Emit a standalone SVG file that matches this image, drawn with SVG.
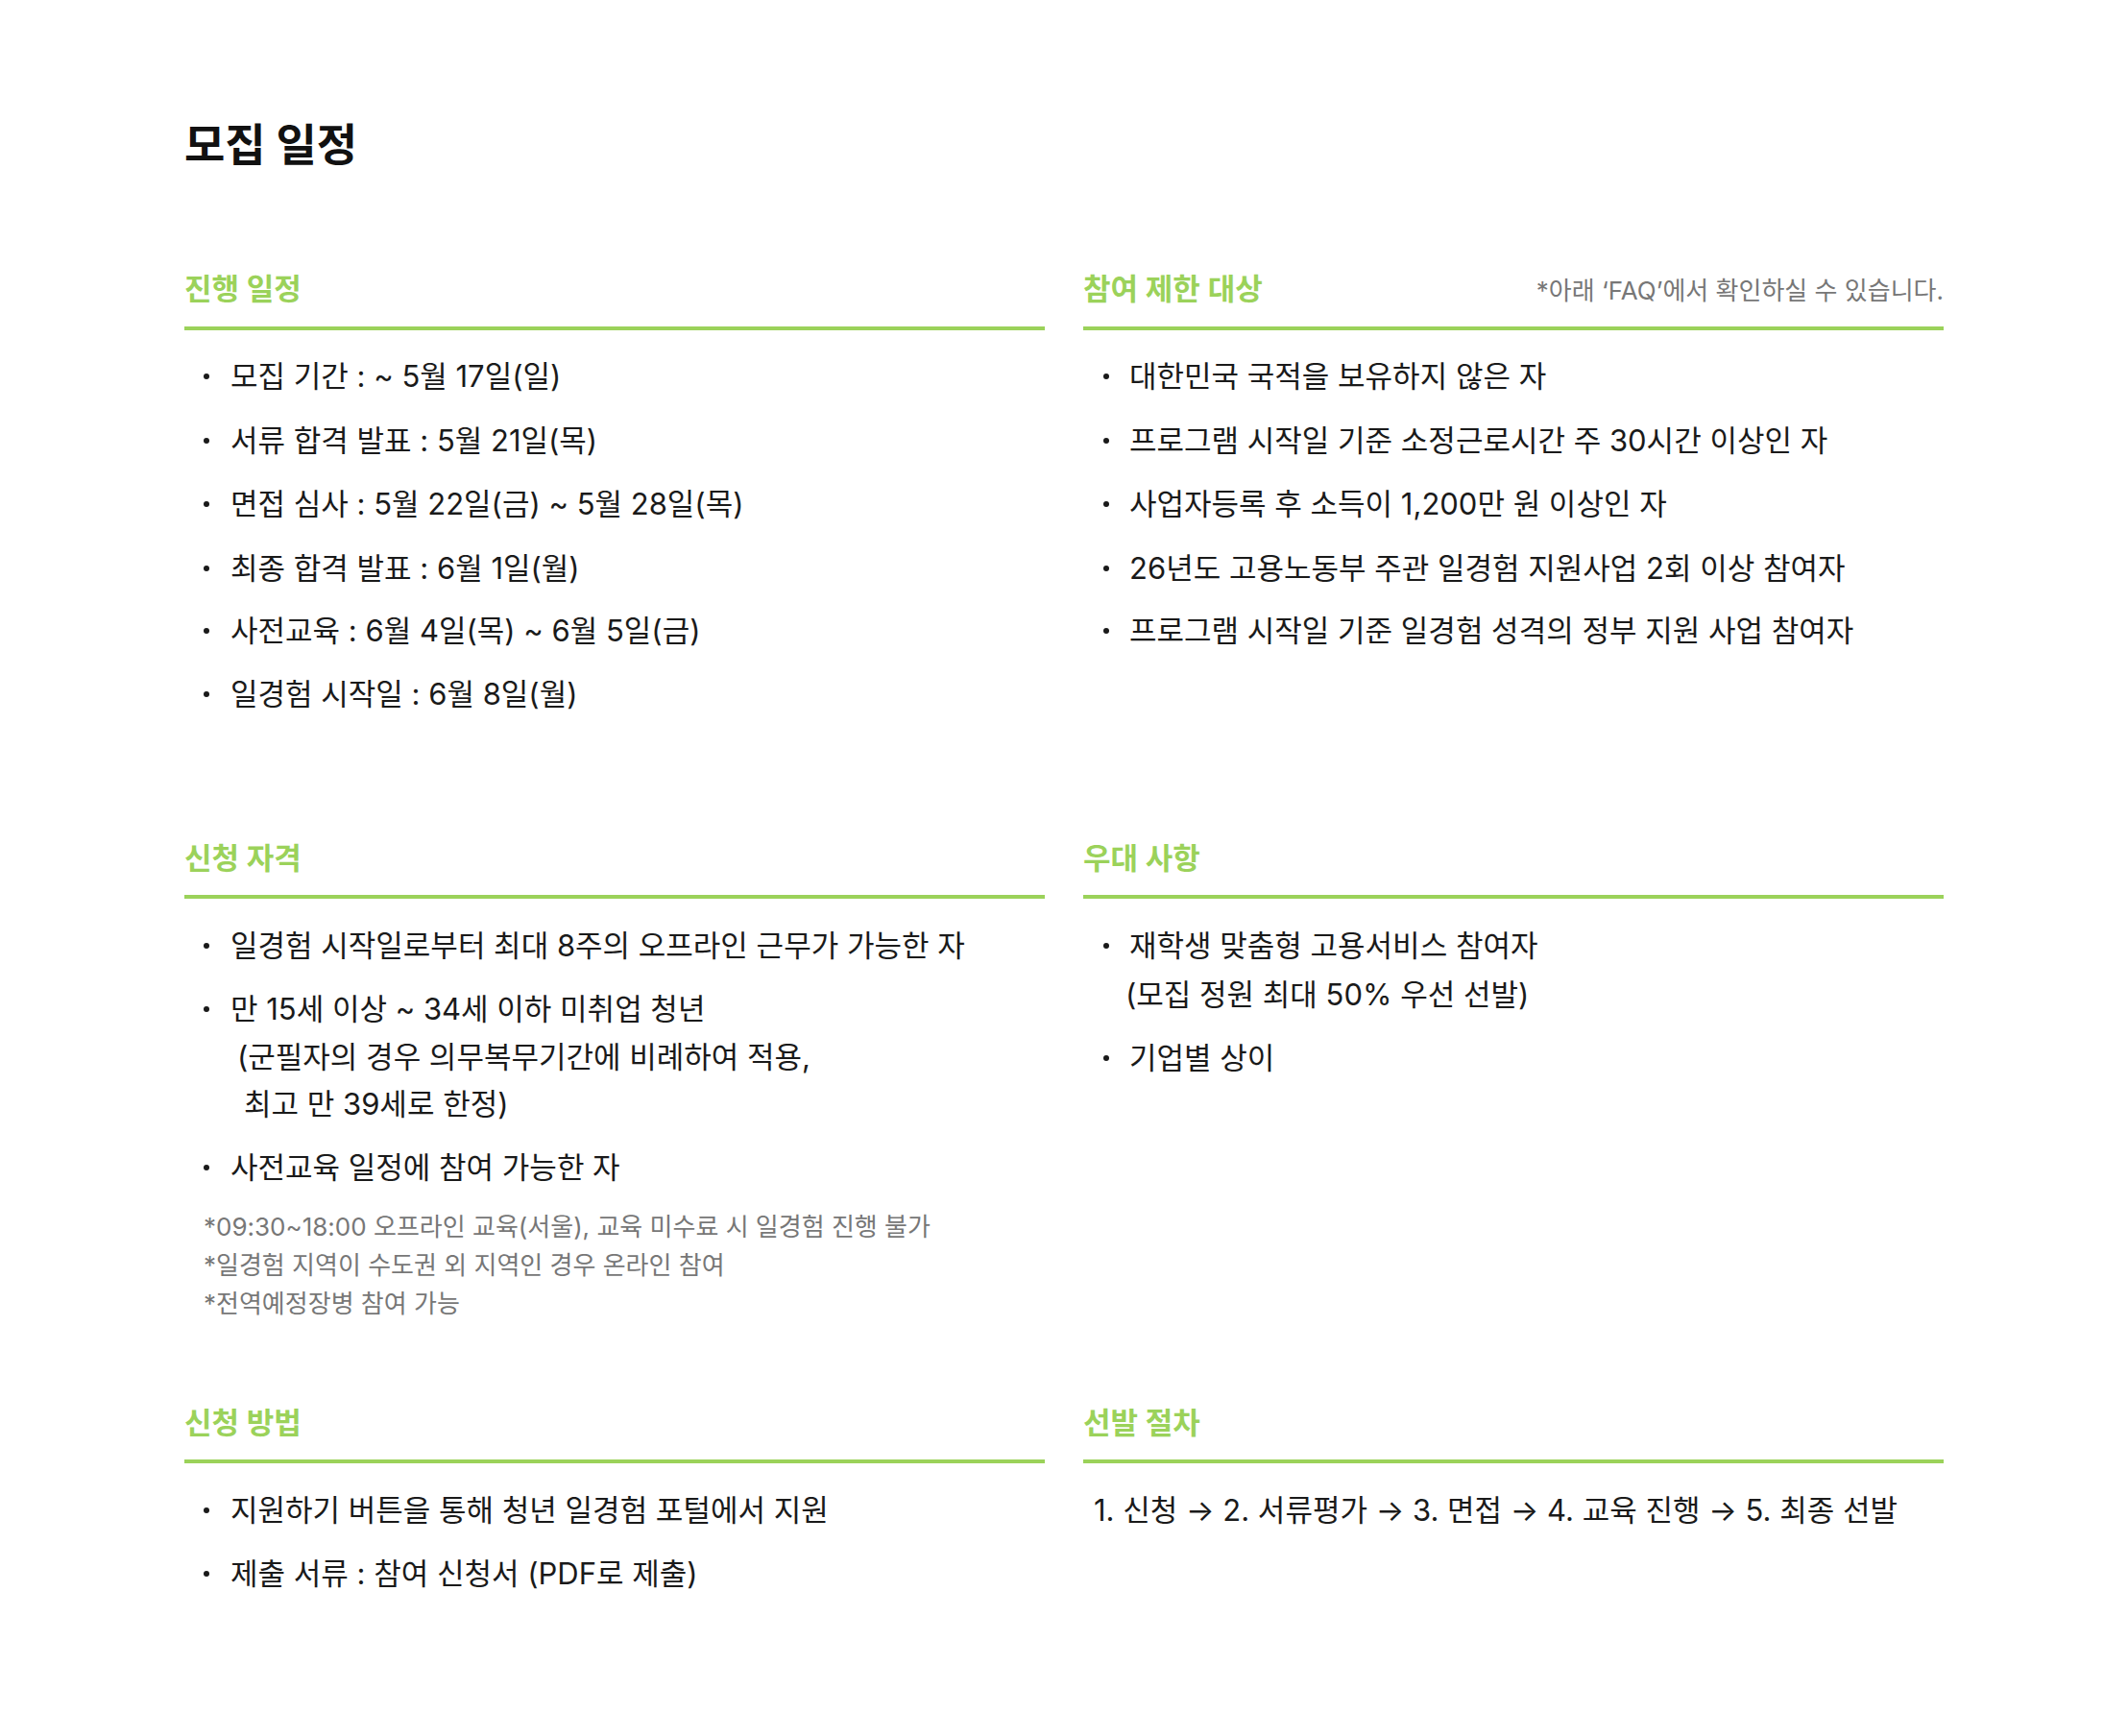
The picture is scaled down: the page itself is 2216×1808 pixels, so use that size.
<svg xmlns="http://www.w3.org/2000/svg" width="2216" height="1808" viewBox="0 0 2216 1808">
<style>
text{font-family:Inter,"Noto Sans CJK KR","Noto Sans",sans-serif;}
.title{font-size:46px;font-weight:700;fill:#111111;}
.h{font-size:31px;font-weight:600;fill:#9bd25a;}
.t{font-size:31px;font-weight:400;fill:#1a1a1a;}
.n{font-size:26px;font-weight:400;fill:#777777;}
.rule{fill:#9bd25a;}
.dot{fill:#1a1a1a;}
</style>
<rect width="2216" height="1808" fill="#ffffff"/>
<g id="title"><text class="title" x="192" y="167">모집 일정</text></g>

<g id="sec-schedule">
<text class="h" x="192" y="312">진행 일정</text>
<rect class="rule" x="192" y="340" width="896" height="4"/>
<circle class="dot" cx="215" cy="392" r="3"/><text class="t" x="240" y="403">모집 기간 : ~ 5월 17일(일)</text>
<circle class="dot" cx="215" cy="459" r="3"/><text class="t" x="240" y="470">서류 합격 발표 : 5월 21일(목)</text>
<circle class="dot" cx="215" cy="525" r="3"/><text class="t" x="240" y="536">면접 심사 : 5월 22일(금) ~ 5월 28일(목)</text>
<circle class="dot" cx="215" cy="592" r="3"/><text class="t" x="240" y="603">최종 합격 발표 : 6월 1일(월)</text>
<circle class="dot" cx="215" cy="657" r="3"/><text class="t" x="240" y="668">사전교육 : 6월 4일(목) ~ 6월 5일(금)</text>
<circle class="dot" cx="215" cy="723" r="3"/><text class="t" x="240" y="734">일경험 시작일 : 6월 8일(월)</text>
</g>

<g id="sec-restrict">
<text class="h" x="1128" y="312">참여 제한 대상</text>
<text class="n" x="2024" y="312" text-anchor="end">*아래 ‘FAQ’에서 확인하실 수 있습니다.</text>
<rect class="rule" x="1128" y="340" width="896" height="4"/>
<circle class="dot" cx="1152" cy="392" r="3"/><text class="t" x="1176" y="403">대한민국 국적을 보유하지 않은 자</text>
<circle class="dot" cx="1152" cy="459" r="3"/><text class="t" x="1176" y="470">프로그램 시작일 기준 소정근로시간 주 30시간 이상인 자</text>
<circle class="dot" cx="1152" cy="525" r="3"/><text class="t" x="1176" y="536">사업자등록 후 소득이 1,200만 원 이상인 자</text>
<circle class="dot" cx="1152" cy="592" r="3"/><text class="t" x="1176" y="603">26년도 고용노동부 주관 일경험 지원사업 2회 이상 참여자</text>
<circle class="dot" cx="1152" cy="657" r="3"/><text class="t" x="1176" y="668">프로그램 시작일 기준 일경험 성격의 정부 지원 사업 참여자</text>
</g>

<g id="sec-qualify">
<text class="h" x="192" y="905">신청 자격</text>
<rect class="rule" x="192" y="932" width="896" height="4"/>
<circle class="dot" cx="215" cy="985" r="3"/><text class="t" x="240" y="996">일경험 시작일로부터 최대 8주의 오프라인 근무가 가능한 자</text>
<circle class="dot" cx="215" cy="1051" r="3"/><text class="t" x="240" y="1062">만 15세 이상 ~ 34세 이하 미취업 청년</text>
<text class="t" x="247" y="1112">(군필자의 경우 의무복무기간에 비례하여 적용,</text>
<text class="t" x="254" y="1161">최고 만 39세로 한정)</text>
<circle class="dot" cx="215" cy="1216" r="3"/><text class="t" x="240" y="1227">사전교육 일정에 참여 가능한 자</text>
<text class="n" x="212" y="1287">*09:30~18:00 오프라인 교육(서울), 교육 미수료 시 일경험 진행 불가</text>
<text class="n" x="212" y="1327">*일경험 지역이 수도권 외 지역인 경우 온라인 참여</text>
<text class="n" x="212" y="1367">*전역예정장병 참여 가능</text>
</g>

<g id="sec-prefer">
<text class="h" x="1128" y="905">우대 사항</text>
<rect class="rule" x="1128" y="932" width="896" height="4"/>
<circle class="dot" cx="1152" cy="985" r="3"/><text class="t" x="1176" y="996">재학생 맞춤형 고용서비스 참여자</text>
<text class="t" x="1172" y="1047">(모집 정원 최대 50% 우선 선발)</text>
<circle class="dot" cx="1152" cy="1102" r="3"/><text class="t" x="1176" y="1113">기업별 상이</text>
</g>

<g id="sec-apply">
<text class="h" x="192" y="1493">신청 방법</text>
<rect class="rule" x="192" y="1520" width="896" height="4"/>
<circle class="dot" cx="215" cy="1573" r="3"/><text class="t" x="240" y="1584">지원하기 버튼을 통해 청년 일경험 포털에서 지원</text>
<circle class="dot" cx="215" cy="1639" r="3"/><text class="t" x="240" y="1650">제출 서류 : 참여 신청서 (PDF로 제출)</text>
</g>

<g id="sec-process">
<text class="h" x="1128" y="1493">선발 절차</text>
<rect class="rule" x="1128" y="1520" width="896" height="4"/>
<text class="t" x="1139" y="1584">1. 신청 → 2. 서류평가 → 3. 면접 → 4. 교육 진행 → 5. 최종 선발</text>
</g>

<g id="connectors"></g>
</svg>
